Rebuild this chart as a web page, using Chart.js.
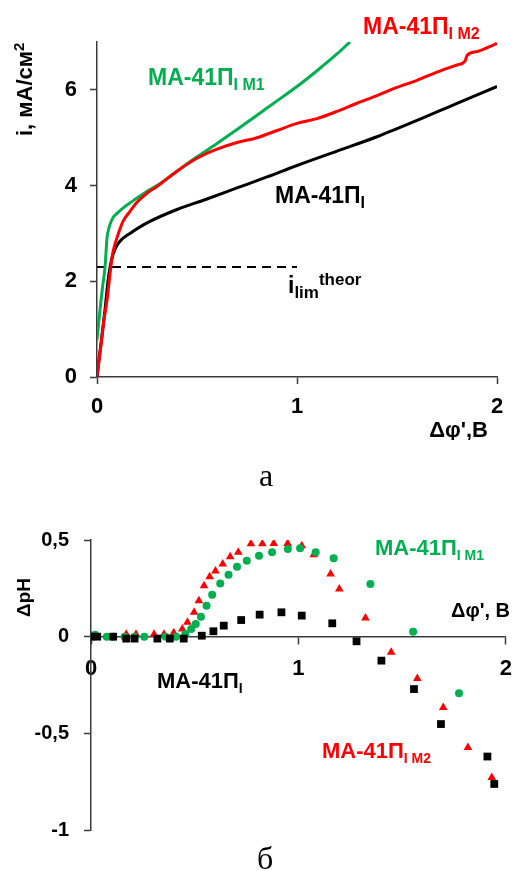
<!DOCTYPE html>
<html>
<head>
<meta charset="utf-8">
<script src="https://cdn.jsdelivr.net/npm/chart.js@4.4.0/dist/chart.umd.min.js"></script>
<style>
  body { margin: 0; background: #fff; width: 524px; height: 871px; position: relative; overflow: hidden; }
  canvas { position: absolute; left: 0; }
  #chartA { top: 0; }
  #chartB { top: 480px; }
  .cap { position: absolute; font-family: "Liberation Serif", "Times New Roman", serif; font-size: 32px; line-height: 32px; color: #000; }
</style>
</head>
<body>
<canvas id="chartA" width="524" height="440"></canvas>
<canvas id="chartB" width="524" height="391"></canvas>
<div class="cap" style="left:259px;top:459px">а</div>
<div class="cap" style="left:257px;top:842px">б</div>
<script>
  'use strict';

  // --- (a) current density vs potential drop ---
  const xI = [0, 0.02, 0.04, 0.055, 0.065, 0.08, 0.1, 0.12, 0.165, 0.25, 0.4, 0.55, 0.7, 0.85, 1.0, 1.2, 1.4, 1.6, 1.8, 2.0];
  const iI = [0, 0.7, 1.4, 2.0, 2.29, 2.56, 2.75, 2.86, 3.0, 3.22, 3.5, 3.72, 3.95, 4.18, 4.42, 4.72, 5.02, 5.36, 5.72, 6.07];

  const xM1 = [0, 0.01, 0.02, 0.03, 0.04, 0.045, 0.05, 0.06, 0.08, 0.1, 0.13, 0.18, 0.25, 0.3, 0.4, 0.5, 0.6, 0.7, 0.8, 0.9, 1.0, 1.1, 1.2, 1.265];
  const iM1 = [0.77, 1.2, 1.6, 1.95, 2.29, 2.6, 2.9, 3.12, 3.33, 3.42, 3.53, 3.68, 3.88, 4.0, 4.3, 4.6, 4.88, 5.17, 5.47, 5.77, 6.07, 6.4, 6.75, 7.0];

  const xM2 = [0, 0.01, 0.023, 0.035, 0.05, 0.065, 0.075, 0.085, 0.1, 0.13, 0.165, 0.2, 0.25, 0.3, 0.4, 0.5, 0.6, 0.7, 0.8, 0.9, 1.0, 1.1, 1.2, 1.3, 1.4, 1.5, 1.6, 1.7, 1.8, 1.84, 1.85, 1.9, 1.95, 2.0];
  const iM2 = [0, 0.35, 0.77, 1.2, 1.6, 2.15, 2.5, 2.7, 2.91, 3.25, 3.46, 3.65, 3.84, 3.98, 4.3, 4.57, 4.76, 4.9, 5.0, 5.15, 5.3, 5.4, 5.55, 5.72, 5.88, 6.05, 6.2, 6.37, 6.52, 6.6, 6.72, 6.8, 6.88, 6.97];

  const iLimTheor = 2.3;
  const iLimRange = [0, 1];

  // --- (б) pH change vs potential drop ---
  const phxI = [0, 0.03, 0.107, 0.17, 0.21, 0.32, 0.38, 0.447, 0.534, 0.59, 0.64, 0.724, 0.813, 0.918, 1.016, 1.163, 1.28, 1.4, 1.557, 1.687, 1.911, 1.944];
  const phyI = [0, 0, 0, -0.01, -0.01, -0.01, -0.01, -0.01, 0.005, 0.028, 0.057, 0.086, 0.114, 0.126, 0.109, 0.069, -0.024, -0.124, -0.271, -0.452, -0.62, -0.762];

  const phxM1 = [0.02, 0.076, 0.107, 0.162, 0.21, 0.257, 0.36, 0.41, 0.455, 0.483, 0.505, 0.53, 0.557, 0.584, 0.623, 0.663, 0.704, 0.751, 0.81, 0.873, 0.949, 1.008, 1.083, 1.17, 1.347, 1.553, 1.774];
  const phyM1 = [0.01, 0, 0, 0, 0, 0, 0, 0, 0.014, 0.04, 0.065, 0.103, 0.16, 0.217, 0.275, 0.32, 0.362, 0.393, 0.419, 0.437, 0.453, 0.457, 0.436, 0.405, 0.272, 0.026, -0.293];

  const phxM2 = [0, 0.17, 0.217, 0.304, 0.352, 0.399, 0.44, 0.465, 0.497, 0.52, 0.545, 0.572, 0.6, 0.635, 0.671, 0.71, 0.771, 0.826, 0.881, 0.948, 1.016, 1.074, 1.155, 1.197, 1.323, 1.447, 1.573, 1.698, 1.817, 1.932];
  const phyM2 = [0.005, 0.012, 0.012, 0.012, 0.012, 0.02, 0.04, 0.074, 0.126, 0.186, 0.264, 0.31, 0.34, 0.376, 0.414, 0.436, 0.48, 0.48, 0.482, 0.482, 0.47, 0.424, 0.324, 0.247, 0.097, -0.081, -0.216, -0.366, -0.573, -0.728];

  const xTicksA = [0, 1, 2];
  const yTicksA = [0, 2, 4, 6];

  const GREEN = '#00b050';
  const RED = '#ff0000';
  const AXIS = '#3a3a3a';
  const SANS = '"Liberation Sans", Arial, sans-serif';

  function pts(xs, ys) {
    return xs.map((x, k) => ({ x: x, y: ys[k] }));
  }

  // draw text made of runs: [text, size, dy]
  function runs(ctx, x, y, parts, color) {
    ctx.fillStyle = color;
    ctx.textBaseline = 'alphabetic';
    ctx.textAlign = 'left';
    let cx = x;
    parts.forEach((p) => {
      ctx.font = 'bold ' + p[1] + 'px ' + SANS;
      ctx.fillText(p[0], cx, y + (p[2] || 0));
      cx += ctx.measureText(p[0]).width;
    });
  }

  function runsRight(ctx, x, y, parts, color) {
    let w = 0;
    parts.forEach((p) => {
      ctx.font = 'bold ' + p[1] + 'px ' + SANS;
      w += ctx.measureText(p[0]).width;
    });
    runs(ctx, x - w, y, parts, color);
  }

  function runsUp(ctx, x, y, parts, color) {
    ctx.save();
    ctx.translate(x, y);
    ctx.rotate(-Math.PI / 2);
    runs(ctx, 0, 0, parts, color);
    ctx.restore();
  }

  function axisStyle(extra) {
    return Object.assign({
      grid: { drawOnChartArea: false, drawTicks: true, tickLength: 7, tickColor: AXIS, tickWidth: 1.5 },
      border: { display: true, color: AXIS, width: 1.5 },
    }, extra);
  }

  const labelsA = {
    id: 'labelsA',
    afterDraw(chart) {
      const ctx = chart.ctx;
      ctx.save();
      runs(ctx, 363, 34, [['МА-41П', 23], ['I М2', 16, 5]], RED);
      runs(ctx, 148, 85, [['МА-41П', 23], ['I М1', 16, 5]], GREEN);
      runs(ctx, 275, 203, [['МА-41П', 23], ['I', 16, 5]], '#000');
      runs(ctx, 288, 293, [['i', 23], ['lim', 17, 5], ['theor', 17, -8]], '#000');
      runsRight(ctx, 488, 437, [['Δφ\',В', 22]], '#000');
      runsUp(ctx, 32, 136, [['i, мА/см', 22], ['2', 15, -8]], '#000');
      ctx.restore();
    },
  };

  const labelsB = {
    id: 'labelsB',
    afterDraw(chart) {
      const ctx = chart.ctx;
      ctx.save();
      runs(ctx, 375, 75, [['МА-41П', 22], ['I М1', 14, 5]], GREEN);
      runs(ctx, 157, 208, [['МА-41П', 22], ['I', 14, 5]], '#000');
      runs(ctx, 322, 278, [['МА-41П', 22], ['I М2', 14, 5]], RED);
      runsRight(ctx, 510, 137, [['Δφ\', В', 20]], '#000');
      runsUp(ctx, 30, 137, [['ΔpH', 19]], '#000');
      ctx.restore();
    },
  };

  function buildCurrentChart() {
    const el = document.getElementById('chartA');
    const lineOpts = { pointRadius: 0, borderWidth: 3, cubicInterpolationMode: 'monotone', fill: false };

    new Chart(el, {
      type: 'line',
      data: {
        datasets: [
          Object.assign({ data: pts(xM2, iM2), borderColor: RED, order: 0 }, lineOpts),
          Object.assign({ data: pts(xM1, iM1), borderColor: GREEN, order: 1 }, lineOpts),
          Object.assign({ data: pts(xI, iI), borderColor: '#000', order: 2 }, lineOpts),
          {
            data: pts(iLimRange, [iLimTheor, iLimTheor]),
            borderColor: '#000', borderWidth: 2, borderDash: [9, 6], pointRadius: 0, order: 3,
          },
        ],
      },
      options: {
        responsive: false,
        animation: false,
        layout: { padding: { left: 0, right: 27, top: 42, bottom: 0 } },
        plugins: { legend: { display: false }, tooltip: { enabled: false } },
        scales: {
          x: axisStyle({
            type: 'linear', min: 0, max: 2,
            afterBuildTicks: (s) => { s.ticks = xTicksA.map((v) => ({ value: v })); },
            afterFit: (s) => { s.height = 63; },
            ticks: { color: '#000', padding: 10, font: { family: SANS, size: 22, weight: 'bold' } },
          }),
          y: axisStyle({
            type: 'linear', min: 0, max: 7,
            afterBuildTicks: (s) => { s.ticks = yTicksA.map((v) => ({ value: v })); },
            afterFit: (s) => { s.width = 97; },
            ticks: { color: '#000', padding: 13, font: { family: SANS, size: 22, weight: 'bold' } },
          }),
        },
      },
      plugins: [labelsA],
    });
  }

  function buildPhChart() {
    const el = document.getElementById('chartB');

    new Chart(el, {
      type: 'scatter',
      data: {
        datasets: [
          { data: pts(phxI, phyI), pointStyle: 'rect', pointRadius: 5.5, backgroundColor: '#000', borderWidth: 0, order: 0 },
          { data: pts(phxM1, phyM1), pointStyle: 'circle', pointRadius: 4, backgroundColor: GREEN, borderWidth: 0, order: 1 },
          { data: pts(phxM2, phyM2), pointStyle: 'triangle', pointRadius: 5, backgroundColor: RED, borderWidth: 0, order: 2 },
        ],
      },
      options: {
        responsive: false,
        animation: false,
        layout: { padding: { left: 0, right: 11, top: 60, bottom: 41 } },
        plugins: { legend: { display: false }, tooltip: { enabled: false } },
        scales: {
          x: axisStyle({
            type: 'linear', min: 0, max: 2, position: { y: 0 },
            ticks: { stepSize: 1, color: '#000', padding: 12, font: { family: SANS, size: 22, weight: 'bold' } },
          }),
          y: axisStyle({
            type: 'linear', min: -1, max: 0.5,
            afterFit: (s) => { s.width = 91; },
            ticks: {
              stepSize: 0.5, color: '#000', padding: 15,
              font: { family: SANS, size: 20, weight: 'bold' },
              callback: (v) => String(v).replace('.', ','),
            },
          }),
        },
      },
      plugins: [labelsB],
    });
  }

  buildCurrentChart();
  buildPhChart();
</script>
</body>
</html>
